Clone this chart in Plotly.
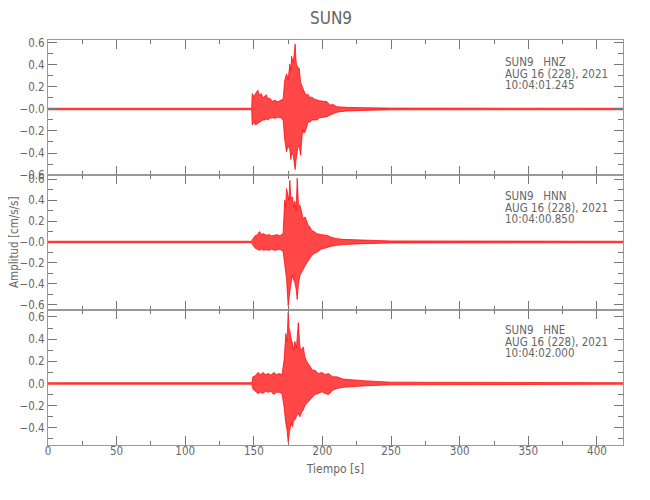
import plotly.graph_objects as go
from plotly.subplots import make_subplots

# ---- data: upper / lower envelopes of each trace ----
t_hnz = [0, 148.4, 148.8, 150, 151.2, 152.9, 154.2, 155.5, 156.6, 158,
         159, 160.3, 161.5, 163.5, 165.5, 167.5, 169.5, 171.3, 172.5, 173.8,
         175, 176.2, 177, 177.5, 178.7, 179.5, 180.1, 180.7, 181.1, 182,
         183.1, 184.1, 185.5, 186.5, 187.3, 188.5, 189.7, 191, 192.2, 194,
         195.8, 198, 200.5, 203.2, 205.6, 208, 210.5, 213, 218, 230,
         250, 419]
up_hnz = [0.007, 0.007, 0.14, 0.11, 0.14, 0.17, 0.12, 0.14, 0.10, 0.12,
          0.13, 0.09, 0.10, 0.07, 0.08, 0.065, 0.075, 0.09, 0.26, 0.32,
          0.27, 0.41, 0.35, 0.48, 0.42, 0.50, 0.59, 0.45, 0.40, 0.38,
          0.37, 0.24, 0.20, 0.16, 0.14, 0.13, 0.13, 0.10, 0.11, 0.09,
          0.08, 0.075, 0.07, 0.067, 0.036, 0.04, 0.02, 0.02, 0.015, 0.012,
          0.008, 0.007]
lo_hnz = [-0.007, -0.007, -0.145, -0.12, -0.145, -0.13, -0.12, -0.11, -0.10, -0.10,
          -0.09, -0.10, -0.085, -0.08, -0.085, -0.075, -0.08, -0.10, -0.28, -0.39,
          -0.33, -0.37, -0.46, -0.40, -0.42, -0.50, -0.55, -0.47, -0.43, -0.35,
          -0.34, -0.42, -0.19, -0.22, -0.21, -0.16, -0.115, -0.12, -0.10, -0.10,
          -0.10, -0.08, -0.075, -0.07, -0.055, -0.04, -0.03, -0.024, -0.018, -0.013,
          -0.008, -0.007]

t_hnn = [0, 148.5, 149.3, 151, 152.5, 154.2, 155.5, 157, 159, 161,
         163, 165, 167, 169, 171.3, 172.5, 173.2, 173.8, 175, 175.6,
         176.2, 177, 178.2, 179, 179.9, 180.8, 181.6, 182.5, 183.6, 184.8,
         186, 187.3, 188.5, 189.7, 191, 192.2, 194, 195.8, 199, 203.2,
         206.5, 210.5, 215, 230, 250, 419]
up_hnn = [0.007, 0.007, 0.03, 0.06, 0.07, 0.10, 0.07, 0.08, 0.065, 0.07,
          0.06, 0.065, 0.07, 0.06, 0.08, 0.40, 0.33, 0.51, 0.45, 0.40,
          0.59, 0.42, 0.43, 0.33, 0.39, 0.30, 0.61, 0.36, 0.35, 0.29,
          0.22, 0.24, 0.19, 0.16, 0.14, 0.11, 0.10, 0.08, 0.07, 0.064,
          0.045, 0.032, 0.025, 0.016, 0.01, 0.007]
lo_hnn = [-0.007, -0.007, -0.03, -0.06, -0.07, -0.08, -0.07, -0.08, -0.075, -0.08,
          -0.07, -0.08, -0.075, -0.07, -0.09, -0.22, -0.30, -0.35, -0.61, -0.50,
          -0.48, -0.40, -0.32, -0.36, -0.39, -0.45, -0.55, -0.40, -0.32, -0.29,
          -0.26, -0.22, -0.20, -0.18, -0.15, -0.13, -0.11, -0.10, -0.07, -0.05,
          -0.04, -0.032, -0.025, -0.016, -0.01, -0.007]

t_hne = [0, 148.5, 149.3, 151, 153, 154.8, 156.6, 158.5, 160.5, 162.5,
         164.4, 166.5, 168.5, 170.5, 172, 173.3, 174.2, 175, 175.6, 176.2,
         177.2, 178.2, 179, 179.9, 181, 182.4, 183.6, 184.8, 186, 187.2,
         188.5, 190.9, 192.8, 194.6, 197, 199.5, 202, 204.4, 207.5, 210.5,
         215, 230, 250, 419]
up_hne = [0.007, 0.007, 0.06, 0.07, 0.10, 0.08, 0.10, 0.08, 0.09, 0.075,
          0.10, 0.08, 0.09, 0.08, 0.21, 0.45, 0.38, 0.64, 0.50, 0.48,
          0.40, 0.36, 0.30, 0.38, 0.32, 0.55, 0.33, 0.30, 0.33, 0.24,
          0.20, 0.15, 0.12, 0.12, 0.09, 0.10, 0.08, 0.09, 0.06, 0.06,
          0.04, 0.025, 0.012, 0.007]
lo_hne = [-0.007, -0.007, -0.05, -0.07, -0.09, -0.08, -0.09, -0.07, -0.08, -0.07,
          -0.10, -0.08, -0.08, -0.09, -0.21, -0.36, -0.42, -0.53, -0.45, -0.42,
          -0.36, -0.39, -0.33, -0.33, -0.30, -0.27, -0.30, -0.26, -0.24, -0.20,
          -0.18, -0.15, -0.12, -0.10, -0.09, -0.075, -0.09, -0.10, -0.06, -0.045,
          -0.035, -0.022, -0.012, -0.007]

labels = [["SUN9   HNZ", "AUG 16 (228), 2021", "10:04:01.245"],
          ["SUN9   HNN", "AUG 16 (228), 2021", "10:04:00.850"],
          ["SUN9   HNE", "AUG 16 (228), 2021", "10:04:02.000"]]

yticks12 = [0.6, 0.4, 0.2, 0.0, -0.2, -0.4, -0.6]
ytext12 = ["0.6", "0.4", "0.2", "\u22120.0", "\u22120.2", "\u22120.4", "\u22120.6"]
yticks3 = [0.6, 0.4, 0.2, 0.0, -0.2, -0.4]
ytext3 = ["0.6", "0.4", "0.2", "0.0", "\u22120.2", "\u22120.4"]
yranges = [[-0.60, 0.627], [-0.65, 0.64], [-0.555, 0.663]]
xticks = [0, 50, 100, 150, 200, 250, 300, 350, 400]

FONT = "DejaVu Sans Condensed, Liberation Sans Narrow, sans-serif"
TXT = "#666666"
RED = "rgb(255,0,0)"

fig = make_subplots(rows=3, cols=1, shared_xaxes=True, vertical_spacing=0)

series = [(t_hnz, up_hnz, lo_hnz), (t_hnn, up_hnn, lo_hnn), (t_hne, up_hne, lo_hne)]
for i, (t, up, lo) in enumerate(series, start=1):
    fig.add_trace(go.Scatter(x=t, y=up, mode="lines", line=dict(color=RED, width=0.7),
                             showlegend=False, hoverinfo="skip"), row=i, col=1)
    fig.add_trace(go.Scatter(x=t, y=lo, mode="lines", line=dict(color=RED, width=0.7),
                             fill="tonexty", fillcolor="rgba(255,0,0,0.72)",
                             showlegend=False, hoverinfo="skip"), row=i, col=1)

axcol = "#999999"
tickcol = "#777777"
for i in range(1, 4):
    fig.update_xaxes(range=[0, 419], tickvals=xticks, showline=True, linecolor=axcol, linewidth=1,
                     mirror="allticks", ticks="inside", ticklen=9, tickcolor=tickcol,
                     minor=dict(ticks="inside", ticklen=4, dtick=25, tick0=0, tickcolor=tickcol),
                     showgrid=False, zeroline=False, showticklabels=(i == 3),
                     ticklabelstandoff=-5,
                     tickfont=dict(family=FONT, size=11.5, color=TXT), row=i, col=1)
    tv, tt = (yticks12, ytext12) if i < 3 else (yticks3, ytext3)
    fig.update_yaxes(range=yranges[i - 1], tickvals=tv, ticktext=tt, showline=True, linecolor=axcol,
                     linewidth=1, mirror="allticks", ticks="inside", ticklen=9, tickcolor=tickcol,
                     minor=dict(ticks="inside", ticklen=5, dtick=0.1, tick0=0, tickcolor=tickcol),
                     showgrid=False, zeroline=False,
                     tickfont=dict(family=FONT, size=11.5, color=TXT), row=i, col=1)

fig.update_xaxes(title=dict(text="Tiempo [s]", font=dict(family=FONT, size=12, color=TXT), standoff=7),
                 row=3, col=1)

annos = []
line_y0 = [62, 196, 330]
for p in range(3):
    for k, txt in enumerate(labels[p]):
        annos.append(dict(text=txt, xref="paper", yref="paper",
                          x=(503 - 48) / 575, y=1 - (line_y0[p] + 11.5 * k - 40) / 405,
                          xanchor="left", yanchor="middle", showarrow=False,
                          font=dict(family=FONT, size=11.5, color=TXT)))
annos.append(dict(text="SUN9", xref="paper", yref="paper", x=(331 - 48) / 575, y=1 + 22 / 405,
                  xanchor="center", yanchor="middle", showarrow=False,
                  font=dict(family=FONT, size=17, color=TXT)))
annos.append(dict(text="Amplitud [cm/s/s]", xref="paper", yref="paper", x=(14 - 48) / 575,
                  y=1 - (242 - 40) / 405, xanchor="center", yanchor="middle", textangle=-90,
                  showarrow=False, font=dict(family=FONT, size=11.5, color=TXT)))

# the page places the figure 8 px from the window's top-left corner
fig.update_layout(width=650, height=500, margin=dict(l=40, r=35, t=32, b=63),
                  paper_bgcolor="white", plot_bgcolor="white", annotations=annos)

fig.write_html("out.html")
